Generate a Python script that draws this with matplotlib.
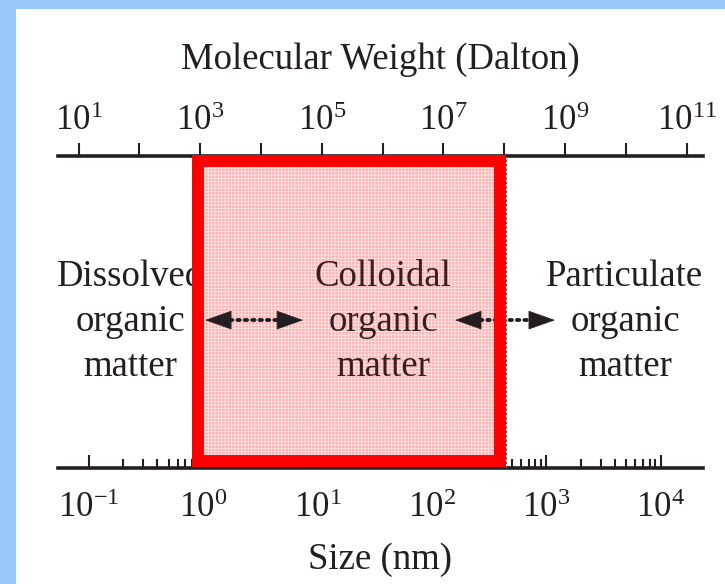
import matplotlib
matplotlib.use("Agg")
import matplotlib.pyplot as plt
from matplotlib.patches import Rectangle
from matplotlib.ticker import NullLocator
from matplotlib.transforms import blended_transform_factory

plt.rcParams["font.family"] = ["Liberation Serif", "DejaVu Serif"]
plt.rcParams["mathtext.fontset"] = "custom"
plt.rcParams["mathtext.rm"] = "Liberation Serif"
plt.rcParams["mathtext.it"] = "Liberation Serif:italic"
plt.rcParams["hatch.linewidth"] = 0.6

# bottom scale: particle size (nm), top scale: molecular weight (Da)
size_exp = [-1, 0, 1, 2, 3, 4]
size_lim = (10 ** -1.267, 10 ** 4.37)
mw_exp = list(range(1, 12))
mw_label_exp = [1, 3, 5, 7, 9, 11]
# MW = 10**mw_a * size**mw_b
mw_a, mw_b = 3.046, 1.882

colloid_range = (0.9, 395)   # nm, centre of the red frame
class_labels = ["Dissolved\norganic\nmatter",
                "Colloidal\norganic\nmatter",
                "Particulate\norganic\nmatter"]
class_xpos = [0.112, 0.504, 0.879]
class_colors = ["#231f20", "#3a1d1d", "#231f20"]
arrow_spans = [(0.228, 0.380), (0.6155, 0.7705)]

ink = "#231f20"

fig = plt.figure(figsize=(7.25, 5.84), dpi=100, facecolor="#99c9f9")
fig.add_artist(Rectangle((16 / 725, 0), 1, 575 / 584, transform=fig.transFigure,
                         facecolor="white", edgecolor="none", zorder=-10))

ax = fig.add_axes([58 / 725, (584 - 468) / 584, 645 / 725, 312 / 584])
ax.patch.set_visible(False)
ax.set_xscale("log")
ax.set_xlim(size_lim)
ax.set_ylim(0, 1)
ax.set_yticks([])
for s in ["left", "right", "top"]:
    ax.spines[s].set_visible(False)
ax.spines["bottom"].set_linewidth(2.6)
ax.spines["bottom"].set_color(ink)

ax.set_xticks([10.0 ** e for e in size_exp])
ax.set_xticklabels([f"$10^{{{e}}}$" for e in size_exp])
ax.set_xticks([m * 10.0 ** e for e in size_exp[:-1] for m in range(2, 10)], minor=True)
ax.tick_params(which="major", direction="in", length=9.5, width=1.5, color=ink,
               pad=17, labelsize=25, labelcolor=ink)
ax.tick_params(which="minor", direction="in", length=6.5, width=1.5, color=ink)
ax.set_xlabel("Size (nm)", fontsize=26.5, color=ink, labelpad=13)

ax2 = ax.twiny()
ax2.set_xscale("log")
ax2.set_xlim([10 ** mw_a * s ** mw_b for s in size_lim])
for s in ["left", "right", "bottom"]:
    ax2.spines[s].set_visible(False)
ax2.spines["top"].set_linewidth(2.6)
ax2.spines["top"].set_color(ink)
ax2.set_xticks([10.0 ** e for e in mw_exp])
ax2.set_xticklabels([f"$10^{{{e}}}$" if e in mw_label_exp else "" for e in mw_exp])
ax2.xaxis.set_minor_locator(NullLocator())
ax2.tick_params(which="major", direction="out", length=9.5, width=1.5, color=ink,
                pad=3.5, labelsize=25, labelcolor=ink)
ax2.set_xlabel("Molecular Weight (Dalton)", fontsize=26.5, color=ink, labelpad=26)

# colloidal window
trans = blended_transform_factory(ax.transData, ax.transAxes)
x0, x1 = colloid_range
box_y0, box_y1 = 0.021, 0.984
ax2.add_patch(Rectangle((x0, box_y0), x1 - x0, box_y1 - box_y0, transform=trans,
                        facecolor="#fcb4b4", edgecolor=(1, 1, 1, 0.65),
                        hatch="+++++", lw=0, zorder=2.5, clip_on=False))
ax2.add_patch(Rectangle((x0, box_y0), x1 - x0, box_y1 - box_y0, transform=trans,
                        fill=False, edgecolor="#ff0000", lw=8.6, joinstyle="miter",
                        zorder=4, clip_on=False))
ax2.plot([445, 445], [0.0, 1.0], transform=trans, color="#555555", lw=0.8,
         ls=(0, (2, 2)), zorder=4.1, clip_on=False)

for lab, xp, c in zip(class_labels, class_xpos, class_colors):
    ax2.text(xp, 0.47, lab, transform=ax2.transAxes, ha="center", va="center",
             fontsize=26.5, color=c, linespacing=1.4, zorder=3)

arrow_y = 0.474
head = 0.038
for a, b in arrow_spans:
    ax2.plot([a + head, b - head], [arrow_y, arrow_y], transform=ax2.transAxes,
             color=ink, lw=2.8, ls=(0, (0.6, 1.3)), dash_capstyle="round", zorder=2.8)
    for tip, base in [(a, a + head), (b, b - head)]:
        ax2.annotate("", xy=(tip, arrow_y), xytext=(base, arrow_y),
                     xycoords="axes fraction", textcoords="axes fraction",
                     arrowprops=dict(arrowstyle="-|>,head_length=0.9,head_width=0.32",
                                     color=ink, lw=0.5, shrinkA=0, shrinkB=0,
                                     mutation_scale=20),
                     zorder=2.8)

fig.savefig("out.png", dpi=100, facecolor=fig.get_facecolor())
